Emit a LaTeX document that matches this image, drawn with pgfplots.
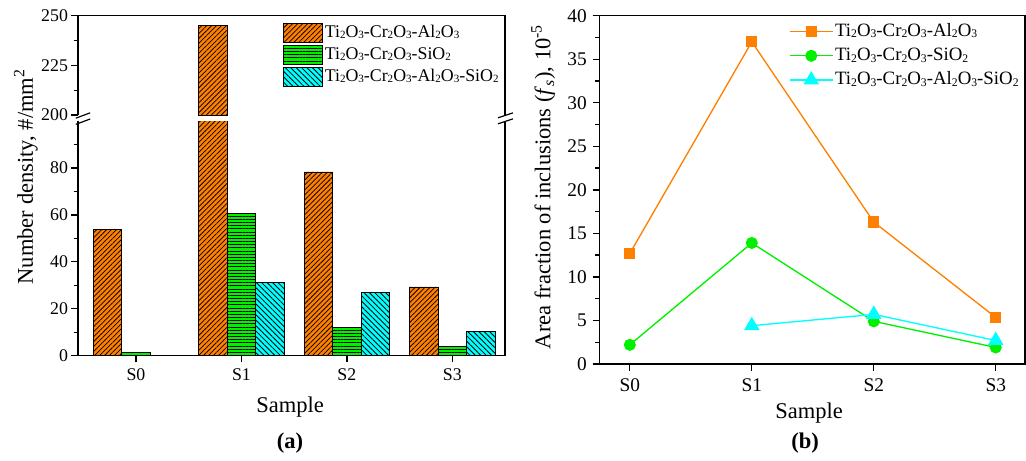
\documentclass[border=0pt]{standalone}
\usepackage{fontspec}
\setmainfont{Liberation Serif}
\usepackage{graphicx}
\usepackage{pgfplots}
\pgfplotsset{compat=1.18}
\usetikzlibrary{patterns.meta}

\definecolor{orangeC}{RGB}{255,128,0}
\definecolor{greenC}{RGB}{0,240,0}
\definecolor{cyanC}{RGB}{0,255,255}

% small, slightly lowered subscripts as in the source figure
\newcommand{\sub}[1]{\raisebox{-0.2ex}{\scalebox{0.62}{#1}}}
\newcommand{\nameA}{Ti\sub{2}O\sub{3}-Cr\sub{2}O\sub{3}-Al\sub{2}O\sub{3}}
\newcommand{\nameB}{Ti\sub{2}O\sub{3}-Cr\sub{2}O\sub{3}-SiO\sub{2}}
\newcommand{\nameC}{Ti\sub{2}O\sub{3}-Cr\sub{2}O\sub{3}-Al\sub{2}O\sub{3}-SiO\sub{2}}

\tikzset{
  hatchA/.style={fill=orangeC, draw=black, line width=0.5pt,
    postaction={pattern={Lines[angle=45,distance=2.1pt,line width=0.45pt]}, pattern color=black}},
  hatchB/.style={fill=greenC, draw=black, line width=0.5pt,
    postaction={pattern={Lines[angle=0,distance=1.9pt,line width=0.45pt]}, pattern color=black}},
  hatchC/.style={fill=cyanC, draw=black, line width=0.5pt,
    postaction={pattern={Lines[angle=-45,distance=2.3pt,line width=0.5pt]}, pattern color=black}},
}

\pgfplotsset{
  leftax/.style={
    scale only axis,
    width=256.2pt,
    xmin=-0.55, xmax=3.5,
    axis line style={draw=none},
    tick style={black, line width=0.8pt},
    tick align=outside,
    tick pos=left,
    major tick length=4pt,
    minor tick length=2.4pt,
    ticklabel style={font=\fontsize{10.7}{12}\selectfont},
    yticklabel style={xshift=1.5pt},
    /pgf/number format/assume math mode=true,
  },
}

\begin{document}
\begin{tikzpicture}
\useasboundingbox (0,0) rectangle (615.6pt,-276pt);

% (a) lower part of the broken axis
\begin{axis}[leftax, name=lowax, at={(46.8pt,-213.4pt)}, anchor=south west,
  height=140.76pt,
  ymin=0, ymax=100,
  xtick={0,1,2,3}, xticklabels={S0,S1,S2,S3},
  ytick={0,20,40,60,80}, minor ytick={10,30,50,70,90},
]
\addplot[ybar, bar width=0.27, bar shift=-0.27, hatchA] coordinates {(0,53.9) (1,245) (2,78.3) (3,29.3)};
\addplot[ybar, bar width=0.27, bar shift=0, hatchB] coordinates {(0,1.4) (1,60.5) (2,12.2) (3,4.0)};
\addplot[ybar, bar width=0.27, bar shift=0.27, hatchC] coordinates {(1,31.1) (2,27.1) (3,10.5)};
\end{axis}

% (a) upper part of the broken axis
\begin{axis}[leftax, name=upax, at={(46.8pt,-69pt)}, anchor=south west,
  height=59.58pt,
  ymin=200, ymax=250,
  xtick=\empty,
  ytick={200,225,250}, minor ytick={212.5,237.5},
  legend style={at={(0.48,0.93)}, anchor=north west, draw=none, fill=none,
    inner sep=0pt, row sep=1.2pt,
    font=\fontsize{10.7}{12}\selectfont,
    nodes={inner sep=1pt, text height=7.6pt, text depth=2.4pt}},
  legend cell align=left,
  legend image code/.code={\draw[#1] (0pt,-5.7pt) rectangle (23.4pt,5.7pt);},
]
\addlegendimage{hatchA}\addlegendentry{\nameA}
\addlegendimage{hatchB}\addlegendentry{\nameB}
\addlegendimage{hatchC}\addlegendentry{\nameC}
\addplot[ybar, bar width=0.27, bar shift=-0.27, hatchA, forget plot] coordinates {(1,245)};
\end{axis}

% frame of the broken axis and break marks
\draw[line width=0.9pt] (lowax.north west) -- (lowax.south west) -- (lowax.south east) -- (lowax.north east);
\draw[line width=0.9pt] (upax.south west) -- (upax.north west) -- (upax.north east) -- (upax.south east);
\draw[line width=0.7pt] (45.5pt,-70.9pt) -- (54.1pt,-67.7pt);
\draw[line width=0.7pt] (45.5pt,-74.6pt) -- (54.1pt,-71.4pt);
\draw[line width=0.7pt] (298.8pt,-70.7pt) -- (307.8pt,-67.7pt);
\draw[line width=0.7pt] (298.8pt,-74.3pt) -- (307.8pt,-71.3pt);

\node[rotate=90, font=\fontsize{13.5}{15}\selectfont] at (15.5pt,-106pt) {Number density, \#/mm\textsuperscript{2}};
\node[font=\fontsize{13.5}{15}\selectfont] at (174pt,-244pt) {Sample};
\node[font=\fontsize{13.5}{15}\selectfont\bfseries] at (174pt,-265.8pt) {(a)};

% (b)
\begin{axis}[scale only axis, at={(359.6pt,-218.4pt)}, anchor=south west,
  width=255.4pt, height=209pt,
  xmin=-0.25, xmax=3.24, ymin=0, ymax=40,
  xtick={0,1,2,3}, xticklabels={S0,S1,S2,S3},
  ytick={0,5,...,40}, minor y tick num=1,
  axis line style={line width=0.9pt},
  tick style={black, line width=0.8pt},
  tick align=outside, tick pos=left,
  major tick length=4pt, minor tick length=2.4pt,
  ticklabel style={font=\fontsize{11.6}{13}\selectfont},
  xticklabel style={yshift=-1.5pt},
  /pgf/number format/assume math mode=true,
  legend style={at={(0.445,0.985)}, anchor=north west, draw=none, fill=none,
    inner sep=0pt, row sep=2pt,
    font=\fontsize{11.3}{13}\selectfont,
    nodes={inner sep=1pt, text height=8pt, text depth=2.5pt}},
  legend cell align=left,
  legend image code/.code={\draw[mark repeat=2, mark phase=2, #1] plot coordinates {(0pt,0pt) (12.9pt,0pt) (25.8pt,0pt)};},
]
\addplot[orangeC, line width=0.8pt, mark=square*, mark size=3pt] coordinates {(0,12.7) (1,37.0) (2,16.3) (3,5.35)};
\addlegendentry{\nameA}
\addplot[greenC, line width=0.8pt, mark=*, mark size=3.2pt] coordinates {(0,2.2) (1,13.9) (2,4.9) (3,1.9)};
\addlegendentry{\nameB}
\addplot[cyanC, line width=0.8pt, mark=triangle*, mark size=4.6pt] coordinates {(1,4.4) (2,5.7) (3,2.7)};
\addlegendentry{\nameC}
\end{axis}

\node[rotate=90, font=\fontsize{13.5}{15}\selectfont] at (326pt,-112pt) {Area fraction of inclusions (\textit{f}\textsubscript{\textit{s}}), 10\textsuperscript{-5}};
\node[font=\fontsize{13.5}{15}\selectfont] at (485.4pt,-247.8pt) {Sample};
\node[font=\fontsize{13.5}{15}\selectfont\bfseries] at (483pt,-265.8pt) {(b)};
\end{tikzpicture}
\end{document}
